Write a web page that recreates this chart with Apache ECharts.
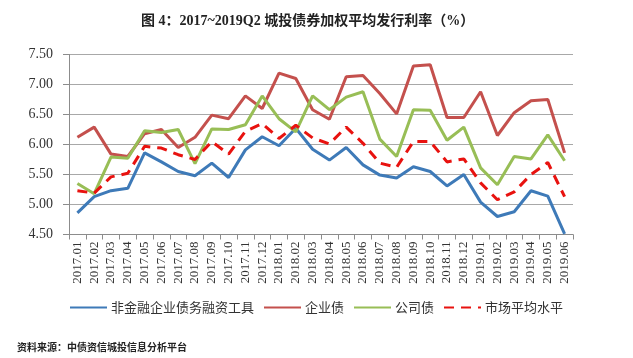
<!DOCTYPE html>
<html>
<head>
<meta charset="utf-8">
<script src="https://cdn.jsdelivr.net/npm/echarts@6/dist/echarts.min.js"></script>
<style>html,body{margin:0;padding:0;background:#fff;}#c{width:633px;height:358px;}</style>
</head>
<body>
<div id="c"></div>
<script>
const categories = ["2017.01","2017.02","2017.03","2017.04","2017.05","2017.06","2017.07","2017.08","2017.09","2017.10","2017.11","2017.12","2018.01","2018.02","2018.03","2018.04","2018.05","2018.06","2018.07","2018.08","2018.09","2018.10","2018.11","2018.12","2019.01","2019.02","2019.03","2019.04","2019.05","2019.06"];
const seriesNames = ["非金融企业债务融资工具","企业债","公司债","市场平均水平"];
const nonFinancial = [4.86,5.13,5.23,5.27,5.86,5.71,5.55,5.48,5.69,5.45,5.91,6.13,5.98,6.27,5.92,5.74,5.95,5.66,5.49,5.44,5.63,5.55,5.31,5.50,5.04,4.80,4.88,5.23,5.14,4.51];
const enterprise = [6.12,6.29,5.84,5.80,6.18,6.25,5.95,6.12,6.49,6.43,6.81,6.60,7.19,7.10,6.58,6.42,7.13,7.15,6.85,6.51,7.31,7.33,6.45,6.45,6.88,6.15,6.53,6.73,6.75,5.86];
const corporate = [5.35,5.18,5.79,5.77,6.23,6.20,6.25,5.68,6.26,6.25,6.33,6.81,6.43,6.21,6.81,6.58,6.79,6.88,6.09,5.80,6.58,6.57,6.07,6.29,5.61,5.33,5.80,5.76,6.16,5.73];
const marketAvg = [5.23,5.19,5.46,5.52,5.97,5.94,5.83,5.75,6.05,5.84,6.22,6.35,6.10,6.32,6.11,6.01,6.29,6.02,5.69,5.62,6.05,6.05,5.71,5.76,5.36,5.08,5.21,5.50,5.70,5.13];
const titleText = "图 4：2017~2019Q2 城投债券加权平均发行利率（%）";
const sourceText = "资料来源：中债资信城投信息分析平台";

const chart = echarts.init(document.getElementById('c'), null, {renderer:'canvas'});
const serif = "'Liberation Serif','Noto Sans CJK SC',serif";
const sans = "'Noto Sans CJK SC','Noto Sans',sans-serif";
const colors = ['#3E7AB8','#C4504D','#98BE56','#E8120F'];
const values = [nonFinancial, enterprise, corporate, marketAvg];
chart.setOption({
  animation:false,
  backgroundColor:'#ffffff',
  title:[{
    text:titleText, left:136, top:9,
    textStyle:{fontFamily:serif, fontWeight:'bold', fontSize:14, color:'#222'}
  },{
    text:sourceText, left:12, top:337,
    textStyle:{fontFamily:sans, fontWeight:'bold', fontSize:10, color:'#222'}
  }],
  legend:{
    data:seriesNames, left:64, top:296,
    itemWidth:37, itemHeight:10, itemGap:9,
    itemStyle:{opacity:0, borderWidth:0},
    textStyle:{fontFamily:sans, fontSize:13, color:'#333', padding:[0,0,0,-1]}
  },
  grid:{left:69, right:60, top:54.5, bottom:123.5},
  xAxis:{
    type:'category', data:categories, boundaryGap:true,
    axisLine:{lineStyle:{color:'#8c8c8c', width:1}},
    axisTick:{show:true, length:5, lineStyle:{color:'#8c8c8c'}},
    axisLabel:{rotate:90, interval:0, margin:7, fontFamily:serif, fontSize:13, color:'#333'},
    splitLine:{show:false}
  },
  yAxis:{
    type:'value', min:4.5, max:7.5, interval:0.5,
    axisLine:{show:true, lineStyle:{color:'#8c8c8c'}},
    axisTick:{show:true, length:6, lineStyle:{color:'#8c8c8c'}},
    axisLabel:{margin:16, fontFamily:serif, fontSize:14, color:'#333', formatter:v=>v.toFixed(2)},
    splitLine:{show:true, lineStyle:{color:'#a8a8a8', width:1}}
  },
  series: seriesNames.map((n,i)=>({
    name:n, type:'line', data:values[i], symbol:'none', smooth:false,
    lineStyle:{color:colors[i], width:3, type: i===3 ? [10,7] : 'solid'},
    itemStyle:{color:colors[i]},
    z: i===3 ? 5 : 2
  }))
});
</script>
</body>
</html>
